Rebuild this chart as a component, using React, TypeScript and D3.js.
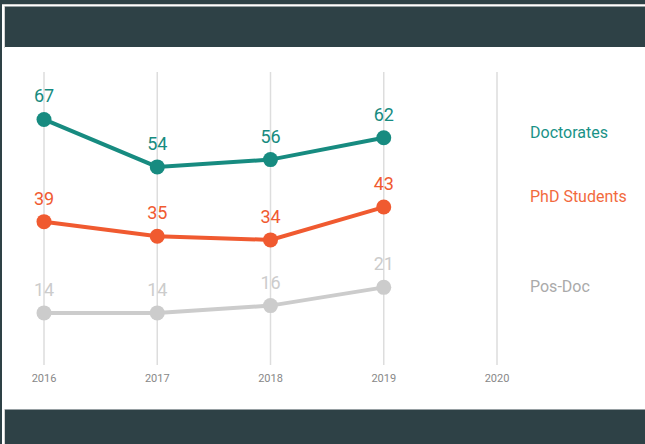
import React from "react";
import * as d3 from "d3";

const years = [2016, 2017, 2018, 2019];
const tickYears = [2016, 2017, 2018, 2019, 2020];
const doctorates = [67, 54, 56, 62];
const phdStudents = [39, 35, 34, 43];
const posDoc = [14, 14, 16, 21];
const seriesNames = ["Doctorates", "PhD Students", "Pos-Doc"];
const seriesColors = ["#178b80", "#f05a30", "#cccccc"];
const legendColors = ["#1a9287", "#f26a3d", "#aaaaaa"];
const legendY = [134, 198, 288];

const W = 645;
const H = 444;
const DARK = "#2e4146";

export default function App() {
  const x = d3.scaleLinear().domain([2016, 2020]).range([44, 497]);
  const y = d3.scaleLinear().domain([0, 80]).range([364, 72]);
  const line = d3
    .line<[number, number]>()
    .x((d) => x(d[0]))
    .y((d) => y(d[1]));
  const all = [doctorates, phdStudents, posDoc];

  return (
    <svg
      width={W}
      height={H}
      style={{ position: "absolute", left: 0, top: 0, display: "block" }}
      fontFamily="Roboto, sans-serif"
    >
      <rect x={0} y={0} width={W} height={H} fill={DARK} />
      <rect x={2} y={4} width={W - 2} height={H - 4} fill="#ffffff" />
      <line x1={2} x2={W} y1={4.5} y2={4.5} stroke="#d0d0d0" strokeWidth={1} />
      <line x1={4.5} x2={4.5} y1={6} y2={48} stroke="#d0d0d0" strokeWidth={1} />
      <rect x={5} y={6.5} width={W - 5} height={40.5} fill={DARK} />
      <line x1={4.5} x2={4.5} y1={409} y2={H} stroke="#d0d0d0" strokeWidth={1} />
      <rect x={5} y={409.5} width={W - 5} height={H - 409.5} fill={DARK} />

      {tickYears.map((t) => (
        <g key={t}>
          <line
            x1={x(t)}
            x2={x(t)}
            y1={y(80)}
            y2={y(0) + 1}
            stroke="#dddddd"
            strokeWidth={1.5}
          />
          <text
            x={x(t)}
            y={382}
            textAnchor="middle"
            fontSize={11}
            fill="#888888"
          >
            {t}
          </text>
        </g>
      ))}

      {all.map((vals, si) => {
        const pts = years.map((yr, i) => [yr, vals[i]] as [number, number]);
        return (
          <g key={si}>
            <path
              d={line(pts) || ""}
              fill="none"
              stroke={seriesColors[si]}
              strokeWidth={4}
            />
            {pts.map((p, i) => (
              <g key={i}>
                <circle cx={x(p[0])} cy={y(p[1])} r={7.5} fill={seriesColors[si]} />
                <text
                  x={x(p[0])}
                  y={y(p[1]) - 17}
                  textAnchor="middle"
                  fontSize={18}
                  fill={seriesColors[si]}
                >
                  {p[1]}
                </text>
              </g>
            ))}
          </g>
        );
      })}

      {seriesNames.map((n, i) => (
        <text
          key={n}
          x={530}
          y={legendY[i]}
          dominantBaseline="middle"
          fontSize={16}
          fill={legendColors[i]}
        >
          {n}
        </text>
      ))}
    </svg>
  );
}
